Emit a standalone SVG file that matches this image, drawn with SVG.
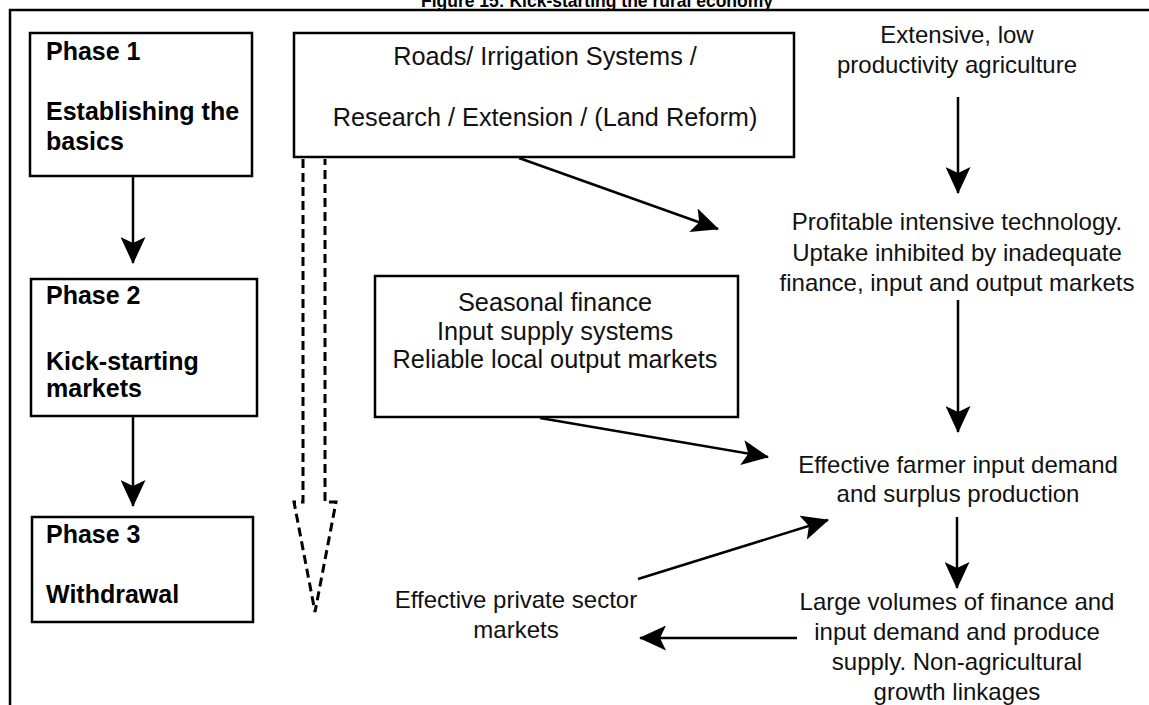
<svg xmlns="http://www.w3.org/2000/svg" width="1149" height="705" viewBox="0 0 1149 705">
<style>
  .box { fill: #fff; stroke: #000; stroke-width: 2.5; }
  .frame { fill: none; stroke: #000; stroke-width: 2.5; }
  .ph { font-family: "Liberation Sans", Arial, sans-serif; font-weight: bold; font-size: 25px; fill: #000; }
  .t { font-family: "Liberation Sans", Arial, sans-serif; font-size: 24px; fill: #111; text-anchor: middle; }
  .tb { font-family: "Liberation Sans", Arial, sans-serif; font-size: 25.3px; fill: #111; text-anchor: middle; }
  .title { font-family: "Liberation Sans", Arial, sans-serif; font-weight: bold; font-size: 17.5px; fill: #000; text-anchor: middle; }
  .c { stroke: #000; stroke-width: 2.5; fill: none; marker-end: url(#ah); }
  .dash { stroke: #000; stroke-width: 3; fill: none; stroke-dasharray: 9 5; }
</style>
<defs>
  <marker id="ah" markerUnits="userSpaceOnUse" viewBox="0 0 27 25" refX="26" refY="12.5" markerWidth="27" markerHeight="25" orient="auto">
    <path d="M0,0 L27,12.5 L0,25 L6,12.5 Z" fill="#000"/>
  </marker>
</defs>
<rect width="1149" height="705" fill="#fff"/>
<text class="title" x="597" y="7">Figure 15: Kick-starting the rural economy</text>
<path class="frame" d="M10,720 V10 H1160"/>

<g id="phase1">
  <rect class="box" x="30" y="33" width="222" height="143"/>
  <text class="ph" x="46" y="60">Phase 1</text>
  <text class="ph" x="46" y="120">Establishing the</text>
  <text class="ph" x="46" y="150">basics</text>
</g>
<g id="phase2">
  <rect class="box" x="31" y="279" width="226" height="137"/>
  <text class="ph" x="46" y="304">Phase 2</text>
  <text class="ph" x="46" y="370">Kick-starting</text>
  <text class="ph" x="46" y="397">markets</text>
</g>
<g id="phase3">
  <rect class="box" x="32" y="517" width="221" height="105"/>
  <text class="ph" x="46" y="543">Phase 3</text>
  <text class="ph" x="46" y="603">Withdrawal</text>
</g>
<g id="basics">
  <rect class="box" x="294" y="33" width="500" height="124"/>
  <text class="tb" x="545" y="65">Roads/ Irrigation Systems /</text>
  <text class="tb" x="545" y="126">Research / Extension / (Land Reform)</text>
</g>
<g id="markets">
  <rect class="box" x="375" y="276" width="363" height="141"/>
  <text class="tb" x="555" y="311">Seasonal finance</text>
  <text class="tb" x="555" y="340">Input supply systems</text>
  <text class="tb" x="555" y="368">Reliable local output markets</text>
</g>
<g id="extensive">
  <text class="t" x="957" y="43">Extensive, low</text>
  <text class="t" x="957" y="73">productivity agriculture</text>
</g>
<g id="profitable">
  <text class="t" x="957" y="230">Profitable intensive technology.</text>
  <text class="t" x="957" y="261">Uptake inhibited by inadequate</text>
  <text class="t" x="957" y="291">finance, input and output markets</text>
</g>
<g id="demand">
  <text class="t" x="958" y="473">Effective farmer input demand</text>
  <text class="t" x="958" y="502">and surplus production</text>
</g>
<g id="volumes">
  <text class="t" x="957" y="610">Large volumes of finance and</text>
  <text class="t" x="957" y="640">input demand and produce</text>
  <text class="t" x="957" y="670">supply. Non-agricultural</text>
  <text class="t" x="957" y="700">growth linkages</text>
</g>
<g id="private">
  <text class="t" x="516" y="608">Effective private sector</text>
  <text class="t" x="516" y="638">markets</text>
</g>

<g id="connectors">
  <line class="c" x1="133" y1="176" x2="133" y2="263"/>
  <line class="c" x1="133" y1="416" x2="133" y2="506"/>
  <line class="c" x1="958" y1="97" x2="958" y2="193"/>
  <line class="c" x1="958" y1="300" x2="958" y2="432"/>
  <line class="c" x1="957" y1="517" x2="957" y2="588"/>
  <line class="c" x1="519" y1="158" x2="718" y2="229"/>
  <line class="c" x1="540" y1="418" x2="768" y2="457"/>
  <line class="c" x1="638" y1="579" x2="828" y2="520"/>
  <line class="c" x1="797" y1="638" x2="640" y2="638"/>
  <path class="dash" d="M303,159 V502 H294 L315,612 L336,502 H325 V159"/>
</g>
</svg>
